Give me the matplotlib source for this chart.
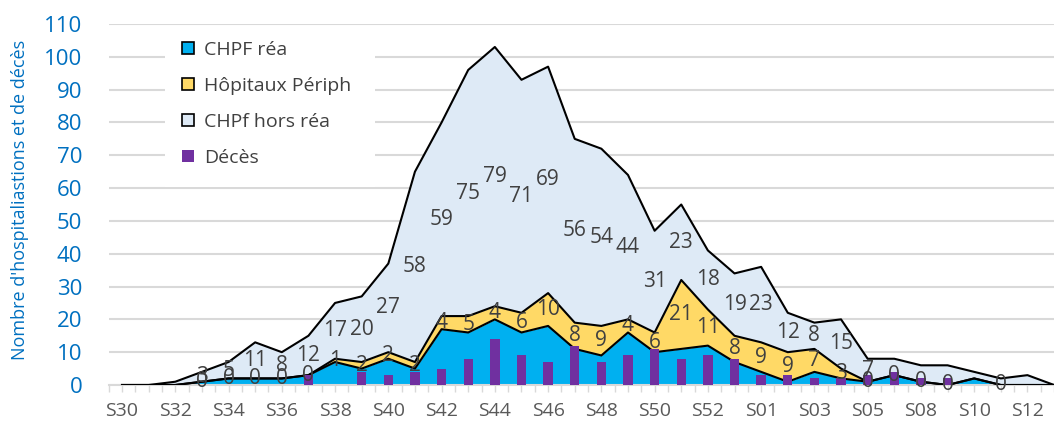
import matplotlib.pyplot as plt
import numpy as np
from matplotlib.patches import Patch, Rectangle

plt.rcParams["font.family"] = ["Open Sans", "DejaVu Sans"]

weeks = ["S30", "S31", "S32", "S33", "S34", "S35", "S36", "S37", "S38", "S39",
         "S40", "S41", "S42", "S43", "S44", "S45", "S46", "S47", "S48", "S49",
         "S50", "S51", "S52", "S53", "S01", "S02", "S03", "S04", "S05", "S06",
         "S08", "S09", "S10", "S11", "S12", "S13"]

chpf_rea = [0, 0, 0, 1, 2, 2, 2, 3, 7, 5, 8, 5, 17, 16, 20, 16, 18, 11, 9, 16,
            10, 11, 12, 7, 4, 1, 4, 2, 1, 3, 1, 0, 2, 0, 0, 0]
periph = [0, 0, 0, 0, 0, 0, 0, 0, 1, 2, 2, 2, 4, 5, 4, 6, 10, 8, 9, 4,
          6, 21, 11, 8, 9, 9, 7, 3, 0, 0, 0, 0, 0, 0, 0, 0]
hors_rea = [0, 0, 1, 3, 5, 11, 8, 12, 17, 20, 27, 58, 59, 75, 79, 71, 69, 56, 54, 44,
            31, 23, 18, 19, 23, 12, 8, 15, 7, 5, 5, 6, 2, 2, 3, 0]
deces = [0, 0, 0, 0, 0, 0, 0, 3, 0, 4, 3, 4, 5, 8, 14, 9, 7, 12, 7, 9,
         11, 8, 9, 8, 3, 3, 2, 2, 3, 4, 2, 2, 0, 0, 0, 0]

# data labels as shown on the chart (None = no label)
periph_labels = [None, None, None, 0, 0, 0, 0, 0, 1, 2, 2, 2, 4, 5, 4, 6, 10, 8, 9, 4,
                 6, 21, 11, 8, 9, 9, 7, 3, 0, 0, 0, 0, None, 0, None, None]
hors_labels = [None, None, None, 3, 5, 11, 8, 12, 17, 20, 27, 58, 59, 75, 79, 71, 69, 56, 54, 44,
               31, 23, 18, 19, 23, 12, 8, 15, 7, None, None, None, None, None, None, None]

BLUE = "#00B0F0"
YELLOW = "#FFD966"
LIGHT = "#DEEAF6"
PURPLE = "#7030A0"
TXT = "#404040"

x = np.arange(len(weeks))
b1 = np.array(chpf_rea, dtype=float)
b2 = b1 + np.array(periph)
b3 = b2 + np.array(hors_rea)

W, H = 1054, 421
fig = plt.figure(figsize=(W / 100, H / 100), dpi=100)
ax = fig.add_axes([108.7 / W, (H - 385) / H, (1067.4 - 108.7) / W, (385 - 24) / H])

ax.fill_between(x, 0, b1, color=BLUE, lw=0, zorder=2)
ax.fill_between(x, b1, b2, color=YELLOW, lw=0, zorder=2)
ax.fill_between(x, b2, b3, color=LIGHT, lw=0, zorder=2)
for top in (b1, b2, b3):
    ax.plot(x, top, color="black", lw=1.5, zorder=3)

ax.bar(x, deces, width=0.35, color=PURPLE, zorder=4)

for i in range(len(x)):
    if periph_labels[i] is not None:
        ax.text(x[i], (b1[i] + b2[i]) / 2, str(periph_labels[i]), ha="center", va="center",
                fontsize=15, color=TXT, zorder=5)
    if hors_labels[i] is not None:
        ax.text(x[i], (b2[i] + b3[i]) / 2, str(hors_labels[i]), ha="center", va="center",
                fontsize=15, color=TXT, zorder=5)

ax.set_xlim(-0.5, len(x) - 0.5)
ax.set_ylim(0, 110)
ax.set_yticks(range(0, 111, 10))
ax.tick_params(axis="y", length=0, pad=19, labelsize=16, labelcolor="#0070C0")
ax.set_xticks(x[::2])
ax.set_xticklabels(weeks[::2])
ax.set_xticks(np.arange(-0.5, len(x), 0.5), minor=True)
ax.tick_params(axis="x", which="both", length=5, width=1, color="#D9D9D9",
               labelsize=14, labelcolor="#595959", pad=7)
ax.grid(axis="y", color="#D9D9D9", lw=1.5)
ax.set_axisbelow(True)
for s in ("top", "right", "left"):
    ax.spines[s].set_visible(False)
ax.spines["bottom"].set_color("#D9D9D9")
ax.spines["bottom"].set_linewidth(1.5)

fig.text(20 / W, 1 - 200 / H, "Nombre d'hospitaliastions et de décès", rotation=90,
         ha="center", va="center", fontsize=13, color="#0070C0")

# legend on a white box
ax.add_patch(Rectangle((165 / W, 1 - 187 / H), 210 / W, 160 / H, transform=fig.transFigure,
                       facecolor="white", edgecolor="none", zorder=1))
handles = [Patch(facecolor=BLUE, edgecolor="black", lw=1.2, label="CHPF réa"),
           Patch(facecolor=YELLOW, edgecolor="black", lw=1.2, label="Hôpitaux Périph"),
           Patch(facecolor=LIGHT, edgecolor="black", lw=1.2, label="CHPf hors réa"),
           Patch(facecolor=PURPLE, edgecolor="none", label="Décès")]
leg = fig.legend(handles=handles, loc="upper left", bbox_to_anchor=(182 / W, 1 - 41 / H),
                 frameon=False, fontsize=14, handlelength=0.6, handleheight=0.6,
                 handletextpad=0.55, labelspacing=0.92, borderpad=0, borderaxespad=0)
for t in leg.get_texts():
    t.set_color(TXT)

fig.savefig("out.png", dpi=100)
